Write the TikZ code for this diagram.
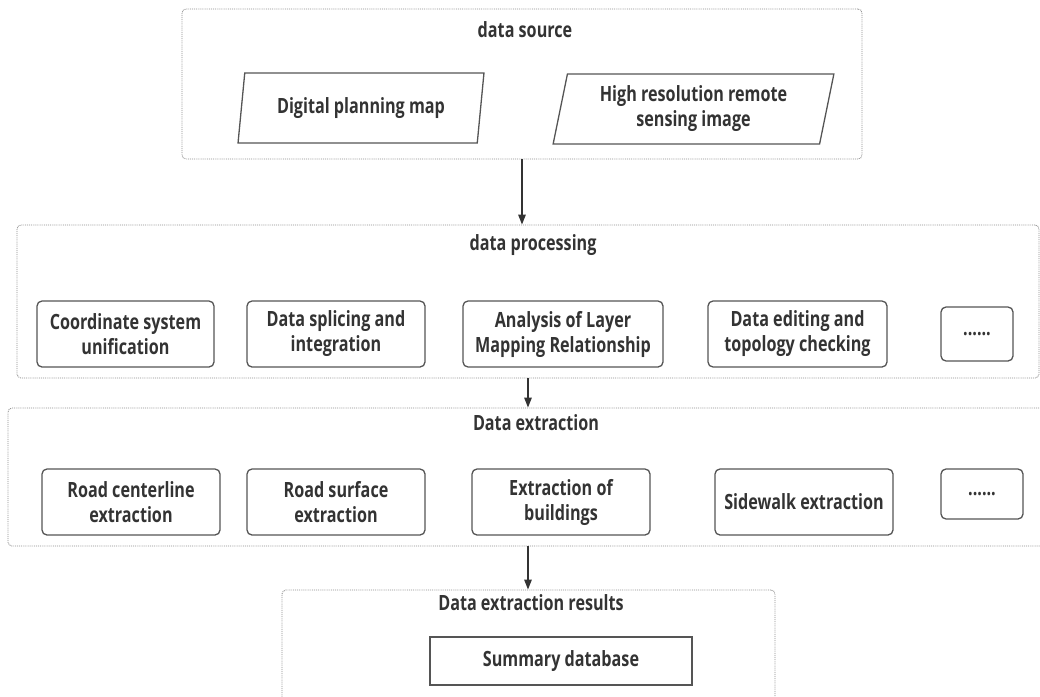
\documentclass[tikz,border=0pt]{standalone}
\usepackage{fontspec}
\setmainfont{Open Sans}[FakeStretch=0.77]
\usetikzlibrary{arrows.meta,shapes.geometric}
\definecolor{txt}{HTML}{333333}
\definecolor{edge}{HTML}{555555}
\definecolor{dotc}{HTML}{8C8C8C}
\begin{document}
\begin{tikzpicture}[x=1pt,y=-1pt,
  lbl/.style={font=\fontsize{21pt}{25pt}\selectfont\bfseries, text=txt, align=center, inner sep=0pt},
  group/.style={draw=dotc, densely dotted, line width=0.9pt, rounded corners=4pt, inner sep=0pt},
  stepbox/.style={lbl, draw=edge, line width=1.3pt, rounded corners=5pt},
  dbbox/.style={lbl, draw=edge, line width=1.3pt},
  para/.style={lbl, draw=edge, line width=1.3pt, trapezium, trapezium left angle=77, trapezium right angle=103, trapezium stretches=true},
  arr/.style={draw=txt, line width=1.4pt, -{Triangle[length=10pt,width=7.5pt]}}
]
\useasboundingbox (0,0) rectangle (1040,696);
\clip (0,0) rectangle (1040,696);
% containers
\node[group, minimum width=680pt, minimum height=150pt] (ds) at (522,84) {};
\node[group, minimum width=1022pt, minimum height=153pt] (dp) at (528,301.5) {};
\node[group, minimum width=1052pt, minimum height=138pt] (de) at (534,477) {};
\node[group, minimum width=493pt, minimum height=130pt] (dr) at (528.5,655) {};
% titles
\node[lbl] (tds) at (525,30) {data source};
\node[lbl] (tdp) at (533,245) {data processing};
\node[lbl] (tde) at (536,423) {Data extraction};
\node[lbl] (tdr) at (531,603) {Data extraction results};
% data source
\node[para, minimum width=246pt, minimum height=70pt] (p1) at (361,108) {Digital planning map};
\node[para, minimum width=281pt, minimum height=70pt] (p2) at (693.5,109) {High resolution remote\\sensing image};
% data processing
\node[stepbox, minimum width=177pt, minimum height=66pt] (a1) at (125.5,334) {Coordinate system\\unification};
\node[stepbox, minimum width=178pt, minimum height=66pt] (a2) at (336,334) {Data splicing and\\integration};
\node[stepbox, minimum width=200pt, minimum height=66pt] (a3) at (563,334) {Analysis of Layer\\Mapping Relationship};
\node[stepbox, minimum width=179pt, minimum height=66pt] (a4) at (797.5,334) {Data editing and\\topology checking};
\node[stepbox, minimum width=72pt, minimum height=54pt] (a5) at (977,334) {......};
% data extraction
\node[stepbox, minimum width=178pt, minimum height=66pt] (b1) at (131,502) {Road centerline\\extraction};
\node[stepbox, minimum width=178pt, minimum height=66pt] (b2) at (336,502) {Road surface\\extraction};
\node[stepbox, minimum width=178pt, minimum height=66pt] (b3) at (561,502) {Extraction of\\buildings};
\node[stepbox, minimum width=178pt, minimum height=66pt] (b4) at (804,502) {Sidewalk extraction};
\node[stepbox, minimum width=82pt, minimum height=50pt] (b5) at (982,494) {......};
% results
\node[dbbox, minimum width=262pt, minimum height=48pt] (sdb) at (561,661) {Summary database};
% arrows
\draw[arr] (ds.south) -- (ds.south |- dp.north);
\draw[arr] (dp.south) -- (dp.south |- de.north);
\draw[arr] (dp.south |- de.south) -- (dp.south |- dr.north);
\end{tikzpicture}
\end{document}
